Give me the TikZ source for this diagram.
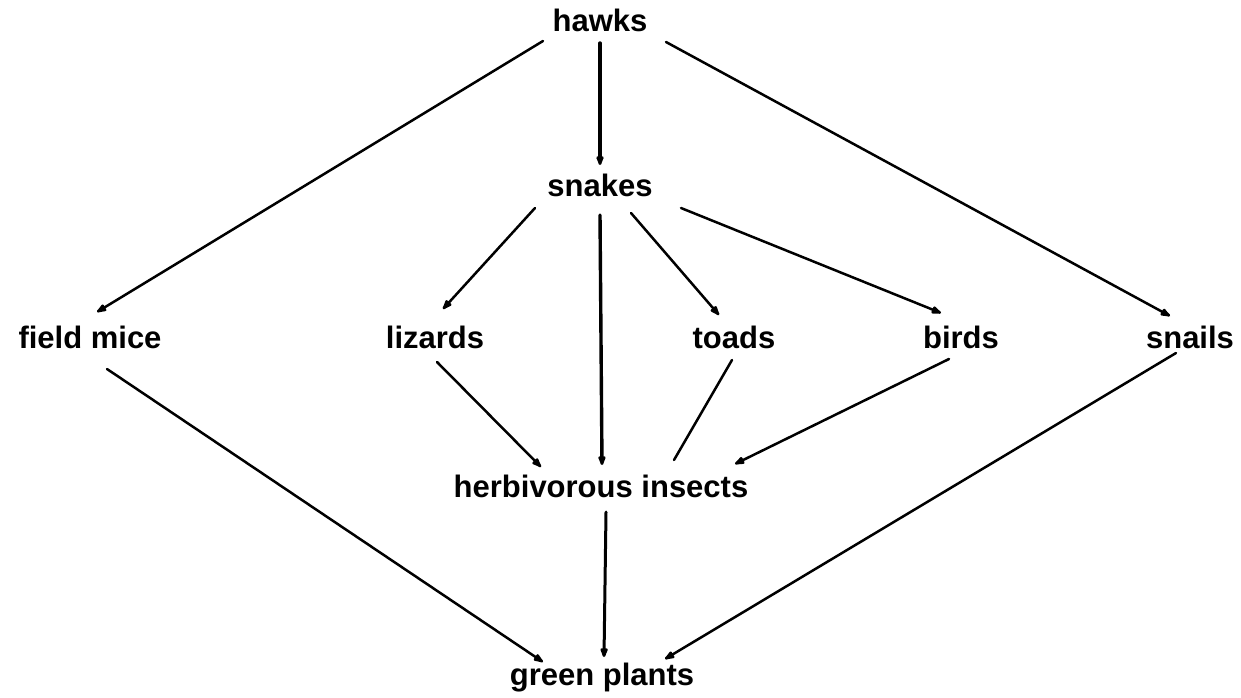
\documentclass[tikz,border=0pt]{standalone}
\usepackage{fontspec}
\setmainfont{Liberation Sans}
\usetikzlibrary{arrows.meta,calc}
\begin{document}
\begin{tikzpicture}[x=1pt,y=-1pt,
  lbl/.style={inner sep=0pt,anchor=base,font=\fontsize{31}{36}\selectfont\bfseries},
  link/.style={line width=2.5pt,line cap=round},
  arr/.style={link,-{Latex[length=14pt,width=9pt,round]}},
  vert/.style={line width=3.4pt}]
\useasboundingbox (0,0) rectangle (1241,698);
\node[lbl] (hawks)   at (600,32)  {hawks};
\node[lbl] (snakes)  at (600,196) {snakes};
\node[lbl] (fmice)   at (90,348)  {field mice};
\node[lbl] (lizards) at (435,348) {lizards};
\node[lbl] (toads)   at (734,348) {toads};
\node[lbl] (birds)   at (961,348) {birds};
\node[lbl] (snails)  at (1190,348) {snails};
\node[lbl] (herb)    at (601,497) {herbivorous insects};
\node[lbl] (green)   at (602,685) {green plants};
% from hawks
\draw[arr] ($(hawks.base)+(-57,9)$) -- ($(fmice.base)+(7,-36)$);
\draw[arr,vert] ($(hawks.base)+(0,11)$) -- ($(snakes.base)+(0,-31)$);
\draw[arr] ($(hawks.base)+(66,10)$) -- ($(snails.base)+(-20,-32)$);
% from snakes
\draw[arr] ($(snakes.base)+(-65,12)$) -- ($(lizards.base)+(8,-39)$);
\draw[arr,vert] ($(snakes.base)+(0,19)$) -- ($(herb.base)+(1,-32)$);
\draw[arr] ($(snakes.base)+(31,17)$) -- ($(toads.base)+(-15,-33)$);
\draw[arr] ($(snakes.base)+(81,12)$) -- ($(birds.base)+(-20,-35)$);
% middle row
\draw[arr] ($(fmice.base)+(17,21)$) -- ($(green.base)+(-59,-23)$);
\draw[arr] ($(lizards.base)+(2,14)$) -- ($(herb.base)+(-60,-30)$);
\draw[link] ($(toads.base)+(-2,12)$) -- ($(herb.base)+(73,-37)$);
\draw[arr] ($(birds.base)+(-12,11)$) -- ($(herb.base)+(134,-33)$);
\draw[arr] ($(snails.base)+(-14,5)$) -- ($(green.base)+(63,-26)$);
% herbivorous insects
\draw[arr,line width=3pt] ($(herb.base)+(5,15)$) -- ($(green.base)+(2,-28)$);
\end{tikzpicture}
\end{document}
